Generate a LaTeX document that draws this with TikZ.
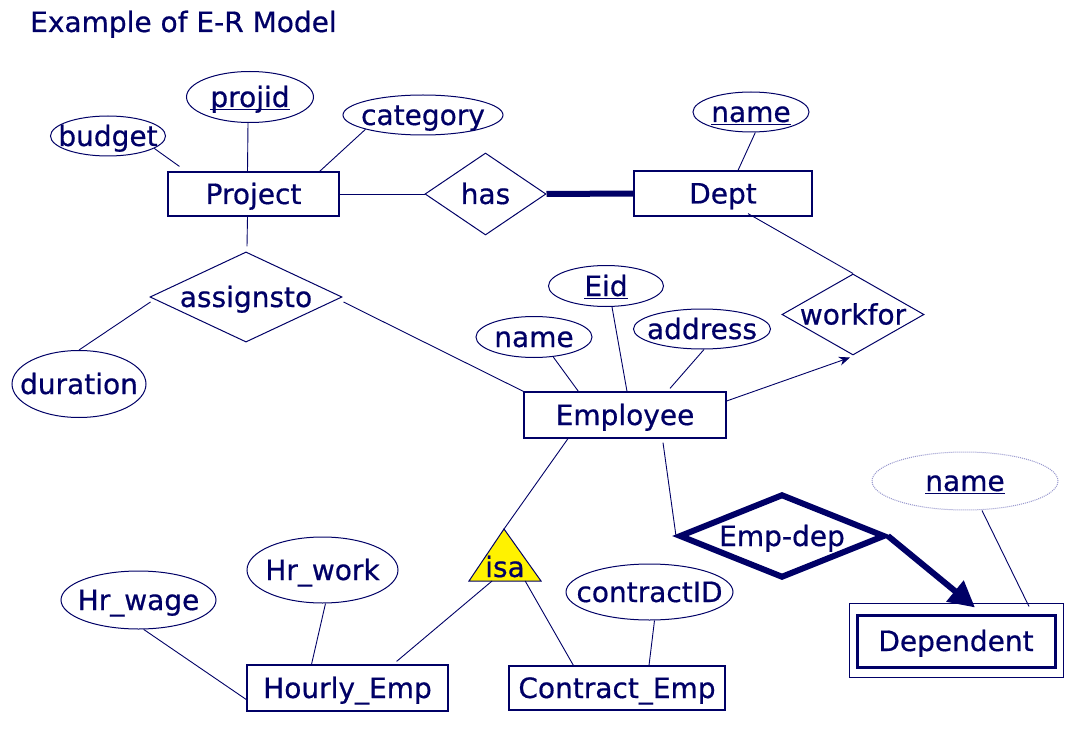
\documentclass[tikz,border=0pt]{standalone}
\usepackage{fontspec}
\setmainfont{DejaVu Sans}[FakeBold=0.6]
\usetikzlibrary{shapes.geometric,arrows.meta,calc}
\definecolor{navy}{RGB}{0,0,102}
\definecolor{dotc}{RGB}{150,150,205}
\newcommand\zw[1]{\makebox[0pt]{#1}}
\newcommand\keyu[1]{\setbox0\hbox{#1}\rlap{\smash{\rule[-3pt]{\wd0}{1.2pt}}}\box0}
\tikzset{
  every node/.append style={text height=24pt, text depth=4pt},
  attr/.style={ellipse, draw, line width=1pt, inner sep=0pt},
  keyattr/.style={ellipse, draw=dotc, densely dotted, line width=1pt, inner sep=0pt},
  ent/.style={rectangle, draw, line width=1.2pt, inner sep=2pt},
  rel/.style={diamond, draw, line width=1pt, inner sep=0pt},
  conn/.style={line width=0.9pt},
  thick conn/.style={line width=6pt}
}
\begin{document}
\begin{tikzpicture}[x=1pt,y=-1pt,color=navy,font=\fontsize{28}{32}\selectfont]
\useasboundingbox[fill=white] (0,0) rectangle (1092,746);

% title
\node[anchor=base west, inner sep=0pt] (title) at (30,32) {Example of E-R Model};

% entities
\node[ent, minimum width=171pt, minimum height=44pt] (proj) at (253.5,194) {Project};
\node[ent, minimum width=178pt, minimum height=45pt] (dept) at (723,193.5) {Dept};
\node[ent, minimum width=202pt, minimum height=46pt] (emp) at (625,415) {Employee};
\node[ent, minimum width=201pt, minimum height=46pt] (hourly) at (347.5,688) {Hourly\_Emp};
\node[ent, minimum width=216pt, minimum height=44pt] (contract) at (617,688) {Contract\_Emp};
\node[draw, line width=1pt, minimum width=214pt, minimum height=74pt, inner sep=0pt] (depouter) at (956,640) {};
\node[ent, line width=3pt, minimum width=198pt, minimum height=52pt] (dep) at (956,641) {Dependent};

% attributes
\node[attr, minimum width=115pt, minimum height=40pt] (budget) at (108,136) {\zw{budget}};
\node[attr, minimum width=127pt, minimum height=51pt] (projid) at (250,97) {\zw{\keyu{projid}}};
\node[attr, minimum width=160pt, minimum height=40pt] (category) at (423,115) {\zw{category}};
\node[attr, minimum width=116pt, minimum height=40pt] (dname) at (751,112) {\zw{\keyu{name}}};
\node[attr, minimum width=115pt, minimum height=41pt] (eid) at (606,286) {\zw{\keyu{Eid}}};
\node[attr, minimum width=116pt, minimum height=41pt] (ename) at (534,337) {\zw{name}};
\node[attr, minimum width=137pt, minimum height=40pt] (address) at (702,329) {\zw{address}};
\node[attr, minimum width=134pt, minimum height=67pt] (duration) at (79,384) {\zw{duration}};
\node[attr, minimum width=155pt, minimum height=58pt] (hrwage) at (138.5,600) {\zw{Hr\_wage}};
\node[attr, minimum width=151pt, minimum height=66pt] (hrwork) at (322.5,570) {\zw{Hr\_work}};
\node[attr, minimum width=167pt, minimum height=56pt] (cid) at (649.5,592) {\zw{contractID}};
\node[keyattr, minimum width=186pt, minimum height=58pt] (dname2) at (965,481) {\zw{\keyu{name}}};

% relationships
\node[rel, aspect=1.48, minimum width=121pt, minimum height=82pt] (has) at (485.5,194) {has};
\node[rel, aspect=2.13, minimum width=192pt, minimum height=90pt] (assign) at (246,297) {assignsto};
\node[rel, aspect=1.75, minimum width=142pt, minimum height=81pt, text height=20pt, text depth=0pt] (workfor) at (853,314.5) {workfor};
\node[rel, line width=6pt, aspect=2.45, minimum width=206pt, minimum height=84pt] (empdep) at (782,536) {Emp-dep};

% isa triangle
\coordinate (isatop) at (504,529);
\coordinate (isal) at (469,581);
\coordinate (isar) at (541,581);
\filldraw[fill=yellow, draw=navy, line width=1pt] (isatop) -- (isal) -- (isar) -- cycle;
\node[inner sep=0pt, anchor=base] (isa) at (505,577) {isa};

% connectors
\draw[conn] (budget.-15) -- ($(proj.north west)+(12,-5)$);
\draw[conn] ($(projid.south)+(-2,0)$) -- ($(proj.north)+(-6,0)$);
\draw[conn] (category.-166) -- ($(proj.north east)+(-20,0)$);
\draw[conn] (proj.east) -- (has.west);
\draw[thick conn] (has.east) -- (dept.west);
\draw[conn] (dname.-78) -- ($(dept.north)+(15,0)$);
\draw[conn] ($(dept.south)+(25,-3)$) -- (workfor.north);
\draw[conn] ($(proj.south)+(-6,0)$) -- ($(assign.north)+(1,-5)$);
\draw[conn] ($(assign.west)+(1,5)$) -- (duration.north);
\draw[conn] ($(assign.east)+(1,5)$) -- (emp.north west);
\draw[conn] (ename.-46) -- ($(emp.north west)+(55,0)$);
\draw[conn] ($(eid.south)+(6,0)$) -- ($(emp.north)+(2,0)$);
\draw[conn] ($(address.south)+(2,0)$) -- ($(emp.north)+(45,-3)$);
\draw[conn, -{Stealth[length=11pt,width=9pt]}] ($(emp.east)+(0,-14)$) -- ($(workfor.south)+(-3,2)$);
\draw[conn] ($(emp.south)+(-57,0)$) -- (isatop);
\draw[conn] ($(isal)!0.32!(isar)$) -- ($(hourly.north east)+(-52,-3)$);
\draw[conn] ($(isal)!0.78!(isar)$) -- ($(contract.north west)+(65,0)$);
\draw[conn] ($(cid.south)+(5,0)$) -- ($(contract.north)+(32,0)$);
\draw[conn] (hrwage.-80) -- ($(hourly.south west)+(0,-12)$);
\draw[conn] ($(hrwork.south)+(3,0)$) -- ($(hourly.north)+(-36,0)$);
\draw[conn] ($(emp.south)+(38,4)$) -- (empdep.west);
\draw[thick conn, -{Triangle[length=26pt,width=26pt]}] (empdep.east) -- ($(depouter.north)+(19,5)$);
\draw[conn] ($(dname2.south)+(17,0)$) -- ($(depouter.north)+(73,4)$);
\end{tikzpicture}
\end{document}
